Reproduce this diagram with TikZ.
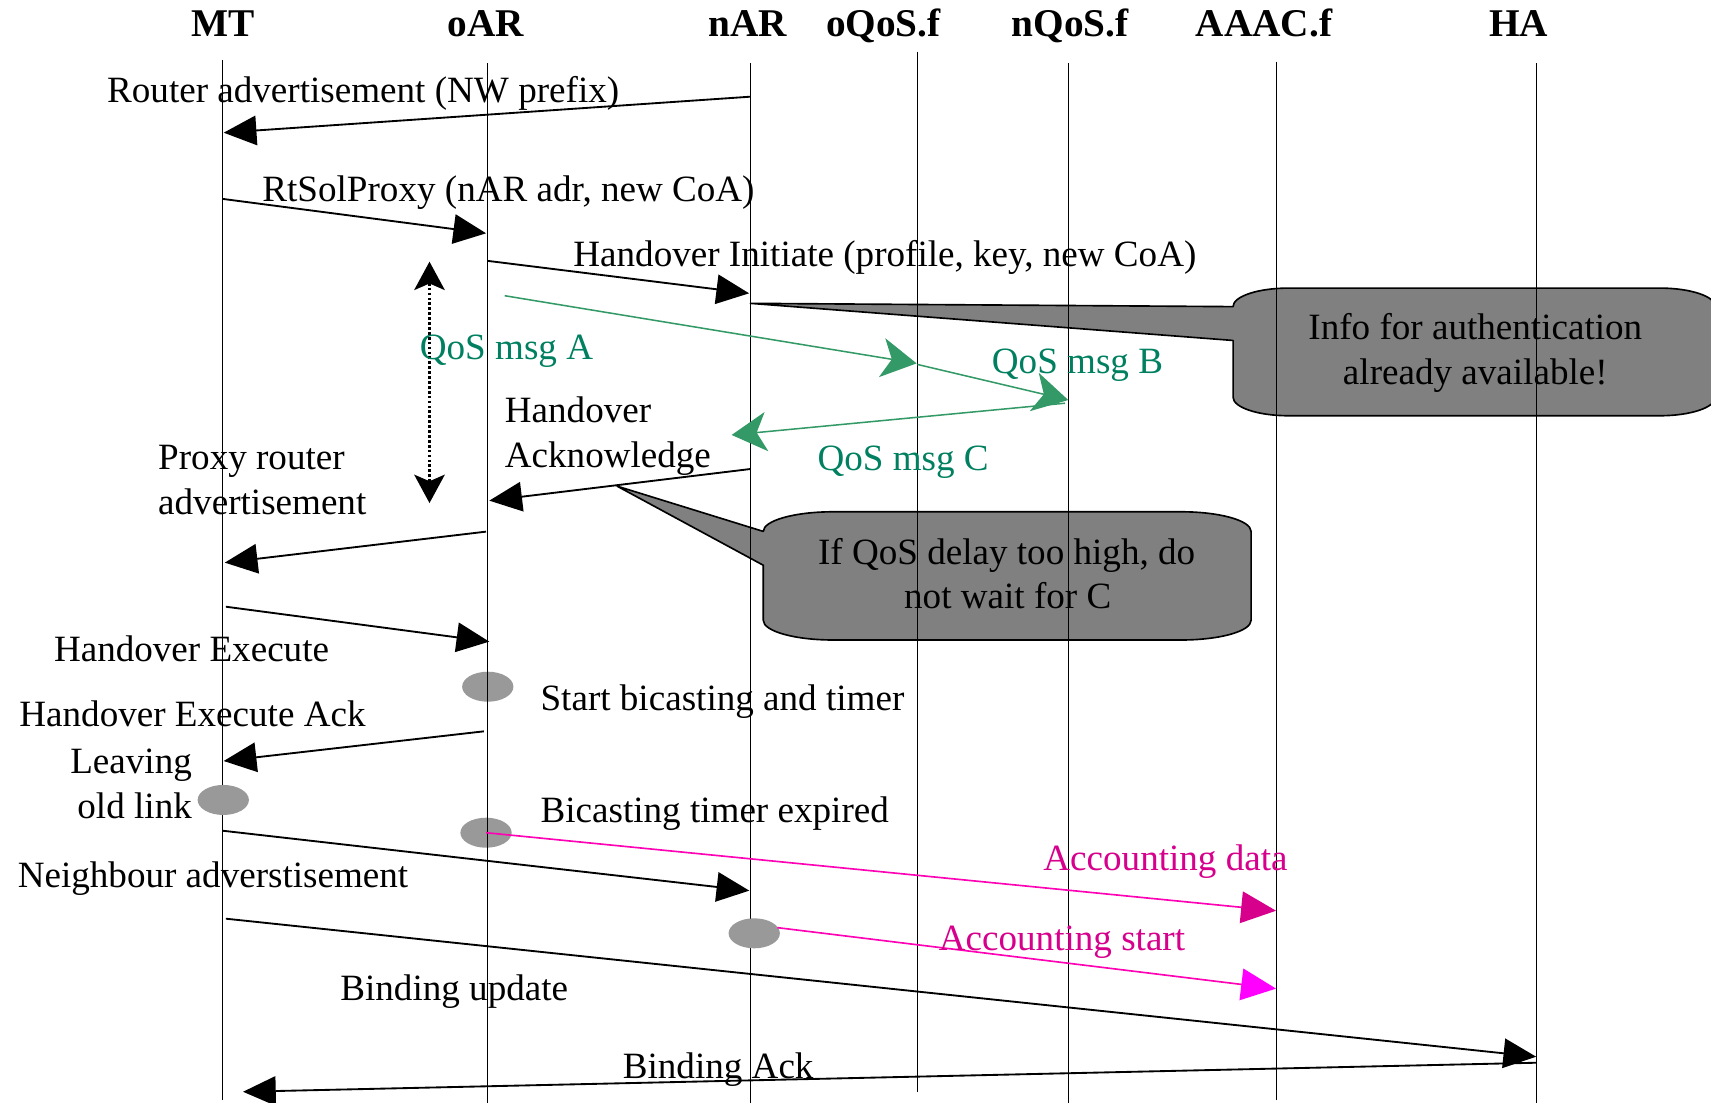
\documentclass[tikz,border=0pt]{standalone}
\usepackage{fontspec}
\setmainfont{Liberation Serif}
\usetikzlibrary{arrows.meta,shapes.geometric}
\definecolor{qosline}{RGB}{51,153,102}
\definecolor{qostext}{RGB}{0,128,96}
\definecolor{accline}{RGB}{255,0,180}
\definecolor{acctext}{RGB}{214,0,140}
\definecolor{acctipA}{RGB}{214,0,140}
\definecolor{acctipB}{RGB}{255,0,255}
\definecolor{evgrey}{RGB}{153,153,153}
\definecolor{boxgrey}{RGB}{128,128,128}
\begin{document}
\begin{tikzpicture}[x=1pt,y=-1pt,
  lbl/.style={inner sep=0pt, anchor=base west, font=\fontsize{34}{42}\selectfont},
  hdr/.style={inner sep=0pt, anchor=base, font=\fontsize{36}{42}\selectfont\bfseries},
  life/.style={line width=1pt},
  msg/.style={line width=1.7pt, -{Triangle[length=30pt,width=27pt]}},
  qos/.style={line width=1.4pt, draw=qosline, -{Stealth[length=32pt,width=36pt,inset=9pt,fill=qosline]}},
  acc/.style={line width=1.5pt, draw=accline},
  evt/.style={ellipse, fill=evgrey, draw=none, minimum width=47pt, minimum height=27.5pt, inner sep=0pt},
  callout/.style={fill=boxgrey, draw=black, line width=1.5pt, line join=round}
]
\useasboundingbox (0,0) rectangle (1568,1010);
\clip (0,0) rectangle (1568,1010);

% ---- callout boxes (behind lifelines)
\coordinate (tipA) at (687.7,278);
\draw[callout] (1130,312) -- (tipA) -- (1130,281)
  arc[start angle=180,end angle=90,x radius=51pt,y radius=17pt] -- (1521,264)
  arc[start angle=90,end angle=0,x radius=51pt,y radius=17pt] -- (1572,364)
  arc[start angle=0,end angle=-90,x radius=51pt,y radius=17pt] -- (1181,381)
  arc[start angle=270,end angle=180,x radius=51pt,y radius=17pt] -- cycle;
\coordinate (tipB) at (565.5,445.5);
\draw[callout] (699.5,518) -- (tipB) -- (699.5,487)
  arc[start angle=180,end angle=90,x radius=64pt,y radius=18pt] -- (1082.5,469)
  arc[start angle=90,end angle=0,x radius=64pt,y radius=18pt] -- (1146.5,568.5)
  arc[start angle=0,end angle=-90,x radius=64pt,y radius=18pt] -- (763.5,586.5)
  arc[start angle=270,end angle=180,x radius=64pt,y radius=18pt] -- cycle;

% ---- oAR events (below lifeline)
\node[evt] (evStart) at (447,629.3) {};
\node[evt] (evExp) at (445.4,763.1) {};

% ---- headers
\node[hdr] (hMT) at (204.8,33.5) {MT};
\node[hdr] (hoAR) at (445,33.5) {oAR};
\node[hdr] (hnAR) at (685.5,33.5) {nAR};
\node[hdr] (hoQ) at (809.5,33.5) {oQoS.f};
\node[hdr] (hnQ) at (980.8,33.5) {nQoS.f};
\node[hdr] (hAAA) at (1158.4,33.5) {AAAC.f};
\node[hdr] (hHA) at (1391.7,33.5) {HA};

% ---- lifelines
\coordinate (MTt) at (204.2,55);   \coordinate (MTb) at (204.2,1008);
\coordinate (oARt) at (446.4,58);  \coordinate (oARb) at (446.4,1012);
\coordinate (nARt) at (687.7,58);  \coordinate (nARb) at (687.7,1012);
\coordinate (oQt) at (840.8,47.4); \coordinate (oQb) at (840.8,1000.5);
\coordinate (nQt) at (978.8,58);   \coordinate (nQb) at (978.8,1012);
\coordinate (AAt) at (1169.4,56.5); \coordinate (AAb) at (1169.4,1008);
\coordinate (HAt) at (1408,58);    \coordinate (HAb) at (1408,1012);
\foreach \a/\b in {MTt/MTb,oARt/oARb,nARt/nARb,oQt/oQb,nQt/nQb,AAt/AAb,HAt/HAb}
  \draw[life] (\a) -- (\b);

% ---- MT / nAR events (cover lifeline)
\node[evt] (evLeave) at (204.6,733.1) {};
\node[evt] (evAcc) at (691.2,855.3) {};

% ---- black messages
\coordinate (m1s) at (687.7,88.6);  \coordinate (m1e) at (205,121.6);
\coordinate (m2s) at (204.2,182.3); \coordinate (m2e) at (445.5,213.8);
\coordinate (m3s) at (446.4,239);   \coordinate (m3e) at (686.5,268.8);
\coordinate (m4s) at (687.7,429.8); \coordinate (m4e) at (448.4,458.8);
\coordinate (m5s) at (445.4,487.2); \coordinate (m5e) at (206,515.6);
\coordinate (m6s) at (207,556);     \coordinate (m6e) at (448.4,588);
\coordinate (m7s) at (443.4,670.2); \coordinate (m7e) at (205,697.4);
\coordinate (m8s) at (204.2,761.3); \coordinate (m8e) at (686.7,816.2);
\coordinate (m9s) at (207,841.9);   \coordinate (m9e) at (1407.8,968.4);
\coordinate (m10s) at (1407.8,973.9); \coordinate (m10e) at (222.7,1000.5);
\foreach \a/\b in {m1s/m1e,m2s/m2e,m3s/m3e,m4s/m4e,m5s/m5e,m6s/m6e,m7s/m7e,m8s/m8e,m9s/m9e,m10s/m10e}
  \draw[msg] (\a) -- (\b);

% ---- dotted double arrow
\coordinate (dtop) at (393.6,239.8); \coordinate (dbot) at (393.6,461);
\draw[line width=2.2pt, dash pattern=on 2.5pt off 2pt,
  {Stealth[length=26pt,width=28pt,inset=6pt]}-{Stealth[length=26pt,width=28pt,inset=6pt]}] (dtop) -- (dbot);

% ---- QoS messages
\coordinate (qAs) at (462.5,271);  \coordinate (qAe) at (840,333);
\coordinate (qBs) at (840.8,334);  \coordinate (qBe) at (979,366.6);
\coordinate (qCs) at (976,369.5);  \coordinate (qCe) at (670.5,398.6);
\draw[qos] (qAs) -- (qAe);
\draw[qos] (qBs) -- (qBe);
\draw[qos] (qCs) -- (qCe);

% ---- accounting messages
\coordinate (aDe) at (1169.4,834.6);
\coordinate (aSs) at (712.4,850.1); \coordinate (aSe) at (1169.4,906);
\draw[acc, -{Triangle[length=32pt,width=29pt,fill=acctipA,color=acctipA]}] (evExp.center) -- (aDe);
\draw[acc, -{Triangle[length=32pt,width=29pt,fill=acctipB,color=acctipB]}] (aSs) -- (aSe);

% ---- labels
\node[lbl] (tRA) at (98,94) {Router advertisement (NW prefix)};
\node[lbl] (tRS) at (240.3,185) {RtSolProxy (nAR adr, new CoA)};
\node[lbl] (tHI) at (525.3,244) {Handover Initiate (profile, key, new CoA)};
\node[lbl, text=qostext] (tQA) at (384.6,329) {QoS msg A};
\node[lbl, text=qostext] (tQB) at (908.8,342.6) {QoS msg B};
\node[lbl, text=qostext] (tQC) at (749,431) {QoS msg C};
\node[lbl] (tHA1) at (462.5,387) {Handover};
\node[lbl] (tHA2) at (462.5,428) {Acknowledge};
\node[lbl] (tPR1) at (144.8,430.5) {Proxy router};
\node[lbl] (tPR2) at (144.8,471.5) {advertisement};
\node[lbl, anchor=base] (tInfo1) at (1352,311.5) {Info for authentication};
\node[lbl, anchor=base] (tInfo2) at (1352,352) {already available!};
\node[lbl, anchor=base] (tIf1) at (922.5,517.5) {If QoS delay too high, do};
\node[lbl, anchor=base] (tIf2) at (923.5,558) {not wait for C};
\node[lbl] (tHE) at (49.3,606.5) {Handover Execute};
\node[lbl] (tSB) at (495.2,651.5) {Start bicasting and timer};
\node[lbl] (tHEA) at (17.6,666) {Handover Execute Ack};
\node[lbl, anchor=base east] (tLv1) at (176,709) {Leaving};
\node[lbl, anchor=base east] (tLv2) at (176,750.5) {old link};
\node[lbl] (tBT) at (495.2,753.5) {Bicasting timer expired};
\node[lbl, text=acctext] (tAD) at (956,797.5) {Accounting data};
\node[lbl] (tNA) at (16.1,813) {Neighbour adverstisement};
\node[lbl, text=acctext] (tAS) at (860.2,871) {Accounting start};
\node[lbl] (tBU) at (311.7,917) {Binding update};
\node[lbl] (tBA) at (570.6,988.5) {Binding Ack};
\end{tikzpicture}
\end{document}
